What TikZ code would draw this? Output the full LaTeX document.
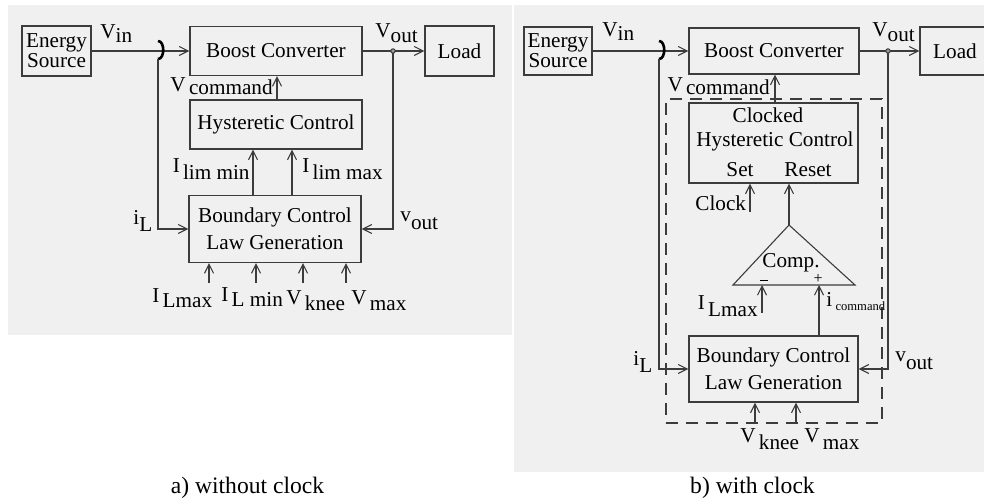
\documentclass[tikz,border=0pt]{standalone}
\usepackage{fontspec}
\setmainfont{Liberation Serif}
\usetikzlibrary{arrows.meta}
\definecolor{bgc}{HTML}{F0F0F0}
\definecolor{lnc}{HTML}{3C3C3C}
\newcommand{\lowr}[2][2.5pt]{\raisebox{-#1}{#2}}
\newcommand{\gp}{\hspace{1.6pt}}
\begin{document}
\begin{tikzpicture}[x=0.5pt,y=-0.5pt,
  font=\fontsize{10.6}{12}\selectfont,
  blk/.style={draw=lnc, line width=0.55pt, inner sep=0pt, align=center},
  wire/.style={draw=lnc, line width=0.55pt},
  arr/.style={wire, -{Straight Barb[length=4.5pt,width=4.5pt]}},
  jump/.style={draw=black, line width=1.3pt},
  lbl/.style={inner sep=0pt, text=black},
  sgn/.style={lbl, font=\fontsize{8}{8}\selectfont},
  captxt/.style={lbl, font=\fontsize{11.8}{13}\selectfont}]
\useasboundingbox (0,0) rectangle (984,501);
\fill[white] (0,0) rectangle (984,501);
\fill[bgc] (8,5) rectangle (512,335);
\fill[bgc] (514,5) rectangle (984,472);

% ================= a) without clock =================
\node[blk, minimum width=34.5pt, minimum height=25pt, font=\fontsize{10.6}{10}\selectfont] (es1) at (56.5,51) {Energy\\Source};
\node[blk, minimum width=86pt, minimum height=24.5pt] (bc1) at (276,51) {Boost Converter};
\node[blk, minimum width=34.5pt, minimum height=25pt] (ld1) at (459.5,51) {Load};
\node[blk, minimum width=86pt, minimum height=24.5pt] (hc1) at (276,124.5) {Hysteretic Control};
\node[blk, minimum width=86pt, minimum height=33.5pt, font=\fontsize{10.6}{13.5}\selectfont] (bl1) at (275,229) {Boundary Control\\Law Generation};

\coordinate (jt1) at (158,41);
\coordinate (jb1) at (158,59);
\coordinate (dt1) at (393,51);
\coordinate (xv1) at (277,0);
\coordinate (xm1) at (253,0);
\coordinate (xx1) at (292,0);
\coordinate (ba1) at (209,283);
\coordinate (ba2) at (256,283);
\coordinate (ba3) at (303,283);
\coordinate (ba4) at (346,283);

\draw[arr] (es1.east) -- (bc1.west);
\draw[jump] (jt1) .. controls (165,41) and (165,59) .. (jb1);
\draw[arr] (jb1) |- (bl1.west);
\draw[wire] (bc1.east) -- (dt1);
\draw[arr] (dt1) -- (ld1.west);
\draw[arr] (dt1) |- (bl1.east);
\draw[lnc, line width=0.5pt, fill=lnc!50] (dt1) circle[radius=1.1pt];
\draw[arr] (xv1 |- hc1.north) -- (xv1 |- bc1.south);
\draw[arr] (xm1 |- bl1.north) -- (xm1 |- hc1.south);
\draw[arr] (xx1 |- bl1.north) -- (xx1 |- hc1.south);
\draw[arr] (ba1) -- (ba1 |- bl1.south);
\draw[arr] (ba2) -- (ba2 |- bl1.south);
\draw[arr] (ba3) -- (ba3 |- bl1.south);
\draw[arr] (ba4) -- (ba4 |- bl1.south);

\node[lbl, anchor=base west] (vin1) at (100,39) {V\lowr[2pt]{in}};
\node[lbl, anchor=base west] (vout1) at (375,38) {V\lowr{out}};
\node[lbl, anchor=base east] (vcm1) at (273,92) {V\gp\lowr[1.5pt]{command}};
\node[lbl, anchor=base east] (ilm1) at (250,173) {I\gp\lowr[3.5pt]{lim min}};
\node[lbl, anchor=base west] (ilx1) at (302,173) {I\gp\lowr[3.5pt]{lim max}};
\node[lbl, anchor=base west] (il1) at (133,225) {i\lowr[3.5pt]{L}};
\node[lbl, anchor=base west] (vo1) at (400,222) {v\lowr[4pt]{out}};
\node[lbl, anchor=base west] (bq1) at (152,303) {I\gp\lowr[2.5pt]{Lmax}};
\node[lbl, anchor=base west] (bq2) at (221,302) {I\gp\lowr[2.5pt]{L min}};
\node[lbl, anchor=base west] (bq3) at (286,305) {V\gp\lowr[3pt]{knee}};
\node[lbl, anchor=base west] (bq4) at (351,305) {V\gp\lowr[3pt]{max}};

% ================= b) with clock =================
\node[draw=lnc, line width=0.55pt, dash pattern=on 6pt off 4pt, inner sep=0pt, minimum width=108pt, minimum height=162pt] (dr2) at (774,261) {};
\node[blk, minimum width=34pt, minimum height=24pt, font=\fontsize{10.6}{10}\selectfont] (es2) at (558,51) {Energy\\Source};
\node[blk, minimum width=85pt, minimum height=23pt] (bc2) at (774,51) {Boost Converter};
\node[blk, minimum width=35pt, minimum height=24pt] (ld2) at (955,51) {Load};
\node[blk, minimum width=84.5pt, minimum height=40pt] (ch2) at (773.5,143) {};
\node[blk, minimum width=84.5pt, minimum height=33pt, font=\fontsize{10.6}{13.5}\selectfont] (bl2) at (773.5,369) {Boundary Control\\Law Generation};

\node[lbl, anchor=base] (t1) at (768,123) {Clocked};
\node[lbl, anchor=base] (t2) at (775,147) {Hysteretic Control};
\node[lbl, anchor=base] (t3) at (740,177) {Set};
\node[lbl, anchor=base] (t4) at (808,177) {Reset};

\coordinate (jt2) at (659,41);
\coordinate (jb2) at (659,59);
\coordinate (dt2) at (888,51);
\coordinate (xv2) at (775,0);
\coordinate (ta) at (789,225);
\coordinate (tl) at (733,285);
\coordinate (tr) at (855,285);
\coordinate (ck) at (750,212);
\coordinate (im) at (762,313);
\coordinate (xc) at (819,0);
\coordinate (k1) at (755,422);
\coordinate (k2) at (796,422);

\draw[arr] (es2.east) -- (bc2.west);
\draw[jump] (jt2) .. controls (666,41) and (666,59) .. (jb2);
\draw[arr] (jb2) |- (bl2.west);
\draw[wire] (bc2.east) -- (dt2);
\draw[arr] (dt2) -- (ld2.west);
\draw[arr] (dt2) |- (bl2.east);
\draw[lnc, line width=0.5pt, fill=lnc!50] (dt2) circle[radius=1.1pt];
\draw[arr] (xv2 |- ch2.north) -- (xv2 |- bc2.south);
\draw[wire] (tl) -- (ta) -- (tr) -- cycle;
\draw[arr] (ta) -- (ta |- ch2.south);
\draw[arr] (ck) -- (ck |- ch2.south);
\draw[arr] (im) -- (im |- tl);
\draw[arr] (xc |- bl2.north) -- (xc |- tl);
\draw[arr] (k1) -- (k1 |- bl2.south);
\draw[arr] (k2) -- (k2 |- bl2.south);

\node[lbl, anchor=base] (cmp) at (791,268) {Comp.};
\node[lbl] (mn) at (764,280.5) {\rule{4pt}{0.5pt}};
\node[sgn, anchor=base] (pl) at (818,283.5) {+};

\node[lbl, anchor=base west] (vin2) at (602,37) {V\lowr[2pt]{in}};
\node[lbl, anchor=base west] (vout2) at (872,37) {V\lowr{out}};
\node[lbl, anchor=base east] (vcm2) at (770,92) {V\gp\lowr[1.5pt]{command}};
\node[lbl, anchor=base west] (clk) at (695,211) {Clock};
\node[lbl, anchor=base east] (ilm2) at (758,310) {I\gp\lowr[3.5pt]{Lmax}};
\node[lbl, anchor=base west] (ic2) at (826,307) {i\gp\lowr[2pt]{\fontsize{6.3}{7}\selectfont command}};
\node[lbl, anchor=base west] (il2) at (633,366) {i\lowr[3.5pt]{L}};
\node[lbl, anchor=base west] (vo2) at (895,362) {v\lowr[4pt]{out}};
\node[lbl, anchor=base west] (kn2) at (740,443) {V\gp\lowr[3.5pt]{knee}};
\node[lbl, anchor=base west] (mx2) at (804,443) {V\gp\lowr[3.5pt]{max}};

% captions
\node[captxt, anchor=base] (capa) at (247.5,494) {a) without clock};
\node[captxt, anchor=base] (capb) at (752.5,494) {b) with clock};
\end{tikzpicture}
\end{document}
